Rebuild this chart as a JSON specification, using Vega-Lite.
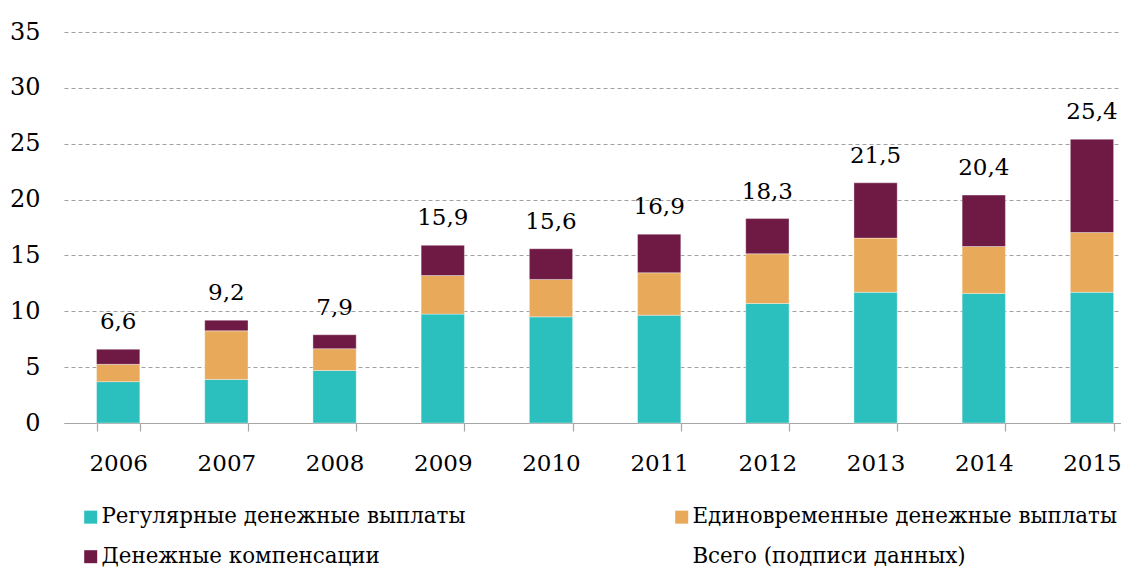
{
  "$schema": "https://vega.github.io/schema/vega-lite/v6.json",
  "width": 1057,
  "height": 391,
  "autosize": {"type": "none"},
  "padding": {"left": 64, "top": 32, "right": 0, "bottom": 144},
  "background": "white",
  "config": {
    "view": {"stroke": null},
    "font": "DejaVu Serif",
    "locale": {"number": {"decimal": ",", "thousands": " ", "grouping": [3], "currency": ["", ""]}}
  },
  "datasets": {
    "parts": [
      {"year": "2006", "series": "Регулярные денежные выплаты", "value": 3.7},
      {"year": "2006", "series": "Единовременные денежные выплаты", "value": 1.55},
      {"year": "2006", "series": "Денежные компенсации", "value": 1.35},
      {"year": "2007", "series": "Регулярные денежные выплаты", "value": 3.9},
      {"year": "2007", "series": "Единовременные денежные выплаты", "value": 4.35},
      {"year": "2007", "series": "Денежные компенсации", "value": 0.95},
      {"year": "2008", "series": "Регулярные денежные выплаты", "value": 4.7},
      {"year": "2008", "series": "Единовременные денежные выплаты", "value": 1.95},
      {"year": "2008", "series": "Денежные компенсации", "value": 1.25},
      {"year": "2009", "series": "Регулярные денежные выплаты", "value": 9.75},
      {"year": "2009", "series": "Единовременные денежные выплаты", "value": 3.45},
      {"year": "2009", "series": "Денежные компенсации", "value": 2.7},
      {"year": "2010", "series": "Регулярные денежные выплаты", "value": 9.5},
      {"year": "2010", "series": "Единовременные денежные выплаты", "value": 3.35},
      {"year": "2010", "series": "Денежные компенсации", "value": 2.75},
      {"year": "2011", "series": "Регулярные денежные выплаты", "value": 9.65},
      {"year": "2011", "series": "Единовременные денежные выплаты", "value": 3.8},
      {"year": "2011", "series": "Денежные компенсации", "value": 3.45},
      {"year": "2012", "series": "Регулярные денежные выплаты", "value": 10.7},
      {"year": "2012", "series": "Единовременные денежные выплаты", "value": 4.45},
      {"year": "2012", "series": "Денежные компенсации", "value": 3.15},
      {"year": "2013", "series": "Регулярные денежные выплаты", "value": 11.7},
      {"year": "2013", "series": "Единовременные денежные выплаты", "value": 4.85},
      {"year": "2013", "series": "Денежные компенсации", "value": 4.95},
      {"year": "2014", "series": "Регулярные денежные выплаты", "value": 11.6},
      {"year": "2014", "series": "Единовременные денежные выплаты", "value": 4.2},
      {"year": "2014", "series": "Денежные компенсации", "value": 4.6},
      {"year": "2015", "series": "Регулярные денежные выплаты", "value": 11.7},
      {"year": "2015", "series": "Единовременные денежные выплаты", "value": 5.35},
      {"year": "2015", "series": "Денежные компенсации", "value": 8.35}
    ],
    "totals": [
      {"year": "2006", "total": 6.6},
      {"year": "2007", "total": 9.2},
      {"year": "2008", "total": 7.9},
      {"year": "2009", "total": 15.9},
      {"year": "2010", "total": 15.6},
      {"year": "2011", "total": 16.9},
      {"year": "2012", "total": 18.3},
      {"year": "2013", "total": 21.5},
      {"year": "2014", "total": 20.4},
      {"year": "2015", "total": 25.4}
    ]
  },
  "encoding": {
    "x": {
      "field": "year",
      "type": "nominal",
      "scale": {"paddingInner": 0.6, "paddingOuter": 0.1845, "align": 0.815},
      "axis": {
        "title": null,
        "labelAngle": 0,
        "labelFontSize": 23,
        "labelColor": "#000000",
        "labelFont": "DejaVu Serif",
        "labelPadding": 21,
        "tickBand": "extent",
        "tickSize": 8,
        "tickColor": "#a6a6a6",
        "domainColor": "#a6a6a6",
        "domainWidth": 1.2,
        "tickWidth": 1.2,
        "grid": false
      }
    }
  },
  "layer": [
    {
      "data": {"name": "parts"},
      "mark": {"type": "bar", "stroke": "#ffffff", "strokeWidth": 0.6, "strokeOpacity": 0.6},
      "encoding": {
        "y": {
          "field": "value",
          "type": "quantitative",
          "stack": "zero",
          "scale": {"domain": [0, 35], "nice": false},
          "axis": {
            "title": null,
            "values": [0, 5, 10, 15, 20, 25, 30, 35],
            "domain": false,
            "ticks": false,
            "labelFontSize": 24,
            "labelColor": "#000000",
            "labelFont": "DejaVu Serif",
            "labelPadding": 24,
            "gridColor": "#a0a0a0",
            "gridDash": [4, 3],
            "gridWidth": 1
          }
        },
        "color": {
          "field": "series",
          "type": "nominal",
          "sort": ["Регулярные денежные выплаты", "Единовременные денежные выплаты", "Денежные компенсации", "Всего (подписи данных)"],
          "scale": {
            "domain": ["Регулярные денежные выплаты", "Единовременные денежные выплаты", "Денежные компенсации", "Всего (подписи данных)"],
            "range": ["#2bbfbe", "#e8a95b", "#6f1a45", "rgba(255,255,255,0)"]
          },
          "legend": {
            "title": null,
            "orient": "none",
            "legendX": 16,
            "legendY": 474,
            "direction": "horizontal",
            "columns": 2,
            "columnPadding": 205,
            "rowPadding": 17,
            "padding": 0,
            "symbolType": "square",
            "symbolSize": 169,
            "symbolStrokeWidth": 0,
            "labelFontSize": 21.4,
            "labelFont": "DejaVu Serif",
            "labelColor": "#000000",
            "labelLimit": 600,
            "labelOffset": 0
          }
        }
      }
    },
    {
      "data": {"name": "totals"},
      "mark": {"type": "text", "baseline": "alphabetic", "dy": -20, "fontSize": 23, "font": "DejaVu Serif", "color": "#000000"},
      "encoding": {
        "y": {"field": "total", "type": "quantitative"},
        "text": {"field": "total", "type": "quantitative", "format": ".1f"}
      }
    }
  ]
}
